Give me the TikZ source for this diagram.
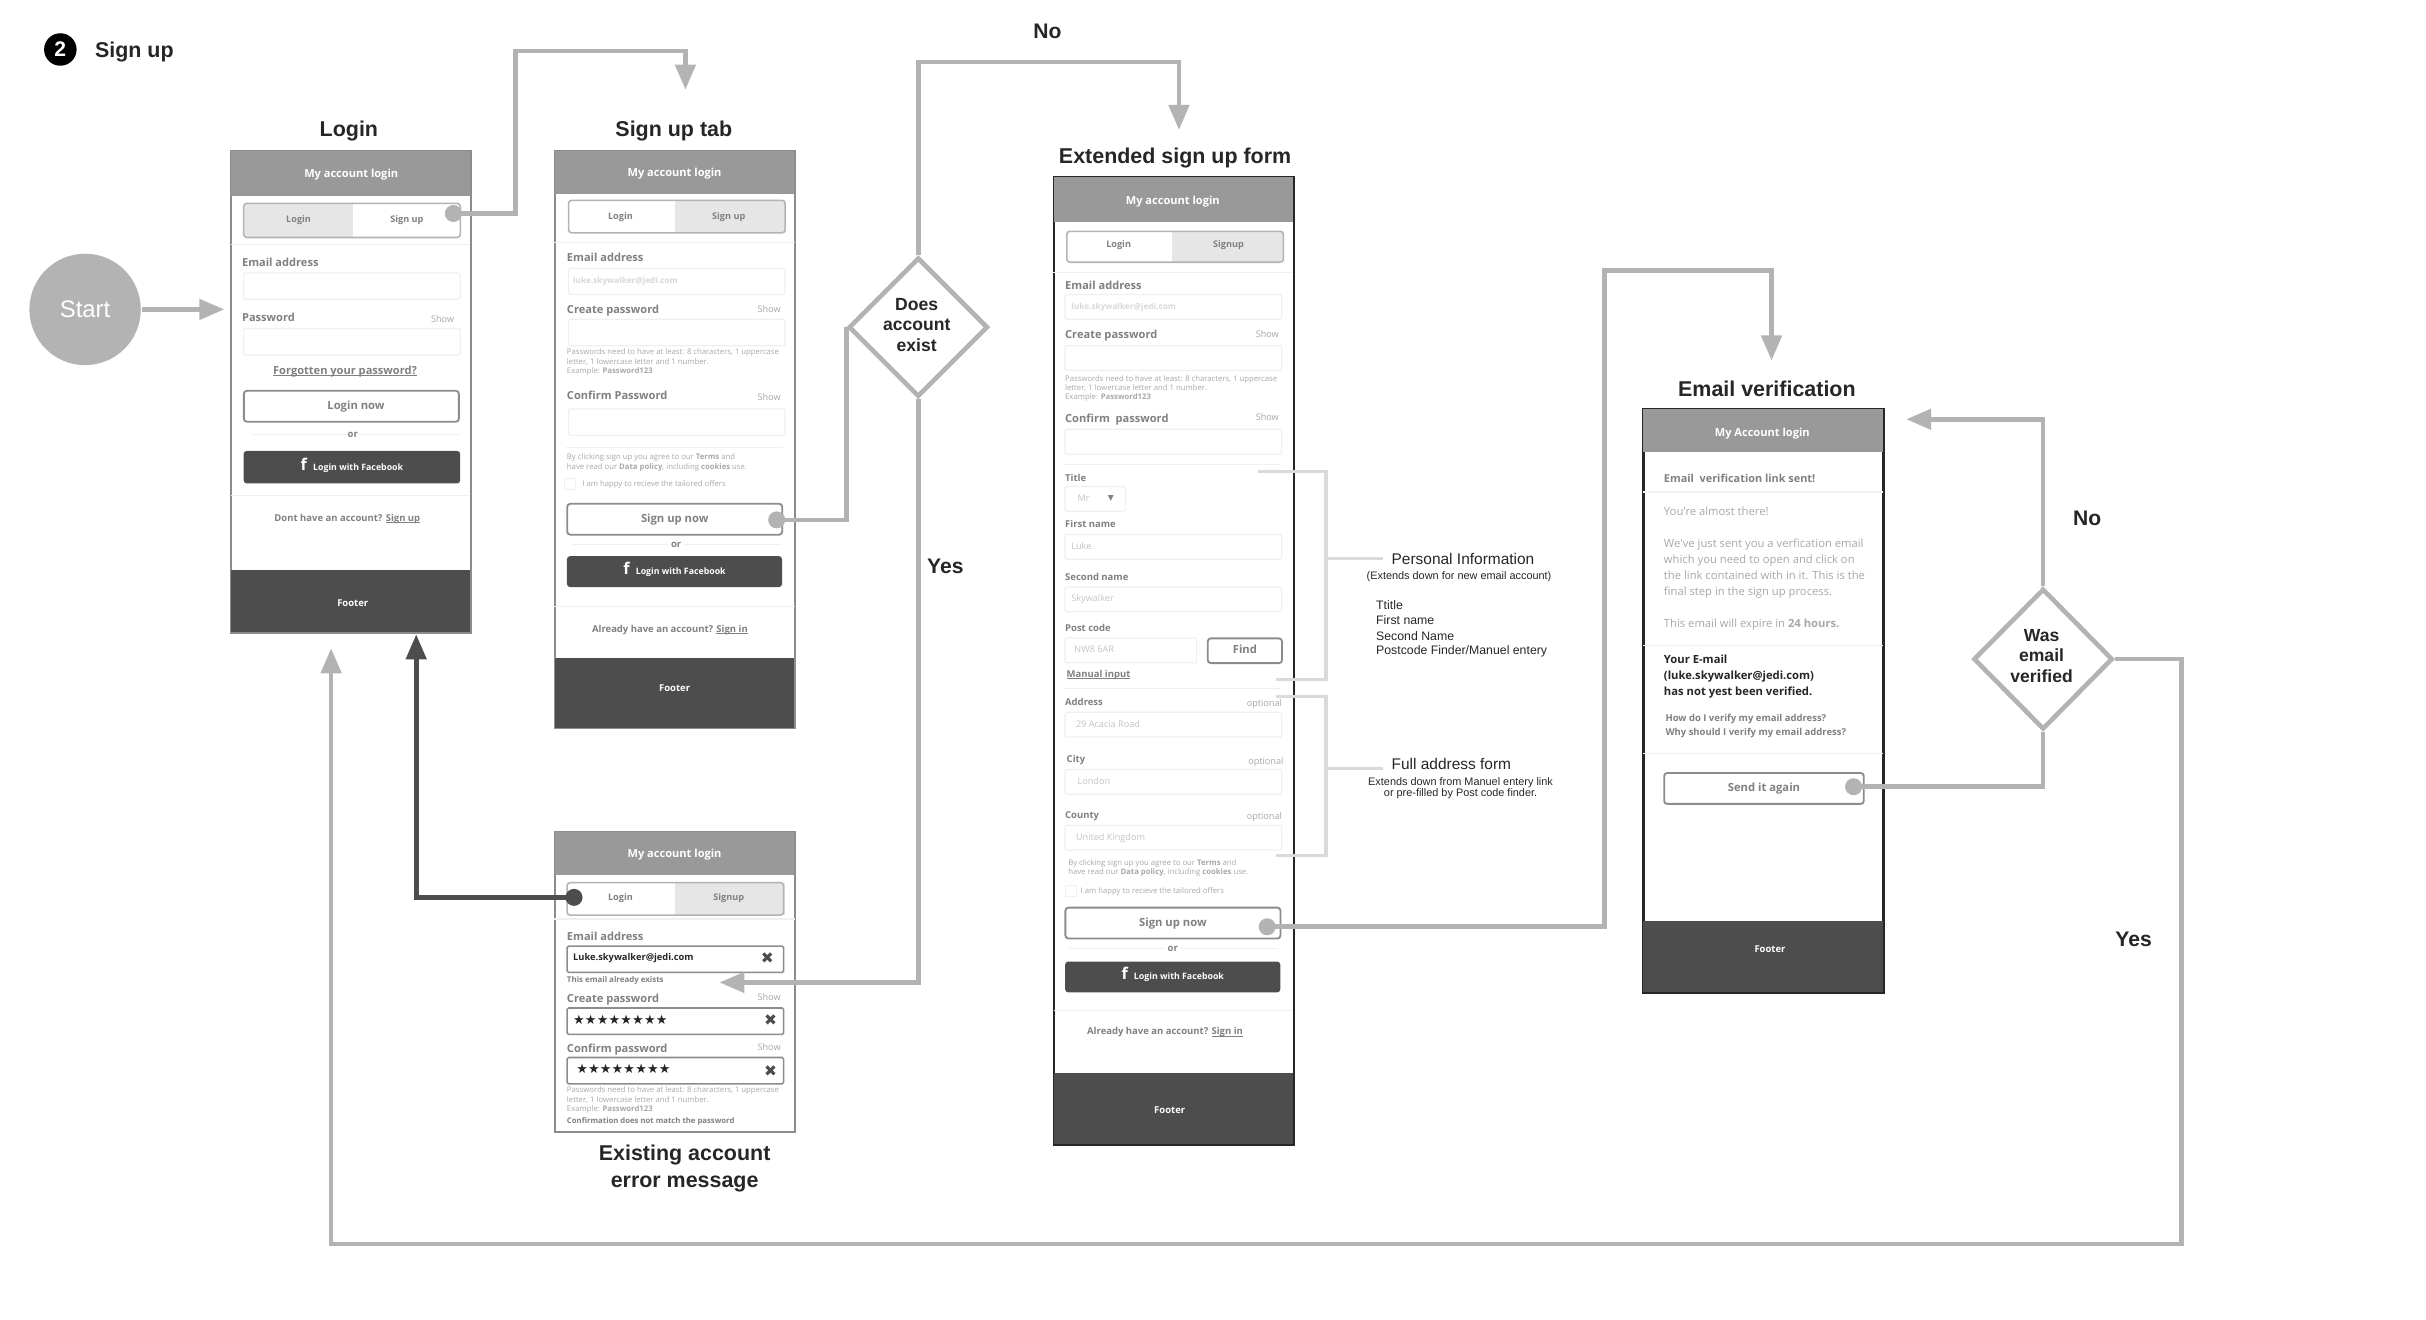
\documentclass[tikz,border=0pt]{standalone}
\usepackage{fontspec}
\usepackage{xcolor}
\usepackage{tikz}
\usetikzlibrary{positioning,arrows.meta,shapes.geometric}
\setmainfont{Liberation Sans}
\newfontfamily\uifont{Open Sans}
\newfontfamily\symfont{DejaVu Sans}
\definecolor{wireHead}{HTML}{999999}
\definecolor{wireDark}{HTML}{4D4D4D}
\definecolor{wireLine}{HTML}{B3B3B3}
\definecolor{wireSoft}{HTML}{E6E6E6}
\definecolor{wireEdge}{HTML}{8C8C8C}
\definecolor{wireFaint}{HTML}{F0F0F0}
\definecolor{wireLabel}{HTML}{808080}
\definecolor{wireHint}{HTML}{A8A8A8}
\definecolor{wirePale}{HTML}{C4C4C4}
\definecolor{wireNote}{HTML}{DADADA}
\definecolor{wireInk}{HTML}{262626}
\newlength{\pxu}
\setlength{\pxu}{0.0154719cm}
\newcommand{\fbmark}{\smash{\fontsize{4.6}{4.6}\selectfont f}\hspace{4\pxu}}
\newcommand{\pwstars}{\foreach \i in {1,...,8}{★\hspace{0.1\pxu}}}
\newcommand{\ulink}[1]{\setbox0=\hbox{#1}\rlap{\rule[-0.4pt]{\wd0}{0.2pt}}\box0}
\tikzset{
  screen/.style={draw=wireEdge,fill=white,line width=1.5\pxu,minimum width=155\pxu,anchor=north west,inner sep=0pt},
  darkscreen/.style={screen,draw=wireInk},
  headbar/.style={fill=wireHead,minimum width=155\pxu,anchor=north west,inner sep=0pt},
  footbar/.style={fill=wireDark,minimum width=155\pxu,anchor=north west,inner sep=0pt},
  evenline/.style={text height=2.4pt,text depth=0.7pt},
  lowline/.style={text height=3.3pt,text depth=0.7pt},
  bartext/.style={lowline,text=white,inner sep=0pt,font=\uifont\bfseries\fontsize{3.15}{3.6}\selectfont},
  foottext/.style={bartext,evenline,font=\uifont\bfseries\fontsize{2.7}{3}\selectfont},
  fieldlabel/.style={lowline,anchor=west,inner sep=0pt,text=wireLabel,font=\uifont\bfseries\fontsize{3.15}{3.6}\selectfont},
  smalllabel/.style={fieldlabel,evenline,font=\uifont\bfseries\fontsize{2.7}{3}\selectfont},
  showtext/.style={evenline,anchor=east,inner sep=0pt,text=wireHint,font=\uifont\fontsize{2.6}{3}\selectfont},
  ghosttext/.style={evenline,anchor=west,inner sep=0pt,text=wirePale,font=\uifont\fontsize{2.6}{3}\selectfont},
  ghostmail/.style={ghosttext,text=wireFaint!90!black,font=\uifont\bfseries\fontsize{2.35}{3}\selectfont},
  finetext/.style={anchor=west,inner sep=0pt,align=left,text=wireHint,font=\uifont\fontsize{2.2}{2.65}\selectfont},
  tabtext/.style={evenline,inner sep=0pt,text=wireLabel,font=\uifont\bfseries\fontsize{2.6}{3}\selectfont},
  centertext/.style={evenline,inner sep=0pt,text=wireLabel,font=\uifont\bfseries\fontsize{2.7}{3.2}\selectfont},
  tabfill/.style={fill=wireSoft,minimum height=21\pxu,anchor=north west,inner sep=0pt},
  tabframe/.style={draw=wireLine,rounded corners=2\pxu,line width=1\pxu,minimum width=140\pxu,minimum height=21\pxu,anchor=north west,inner sep=0pt},
  inputfield/.style={draw=wireFaint,rounded corners=1\pxu,line width=0.8\pxu,minimum width=140\pxu,minimum height=17\pxu,anchor=north west,inner sep=0pt},
  filledfield/.style={inputfield,draw=wireEdge,line width=1\pxu},
  outbutton/.style={evenline,draw=wireEdge,fill=white,rounded corners=2\pxu,line width=1.2\pxu,minimum width=139\pxu,minimum height=20\pxu,anchor=north west,inner sep=0pt,text=wireLabel,font=\uifont\bfseries\fontsize{3.2}{3.6}\selectfont},
  fbbutton/.style={evenline,fill=wireDark,rounded corners=2\pxu,minimum width=139\pxu,minimum height=20\pxu,anchor=north west,inner sep=0pt,text=white,font=\uifont\bfseries\fontsize{2.5}{3}\selectfont},
  sepline/.style={draw=wireFaint,line width=0.7\pxu},
  hotspot/.style={circle,fill=wireLine,minimum size=11\pxu,inner sep=0pt},
  darkspot/.style={hotspot,fill=wireDark},
  flow/.style={draw=wireLine,line width=3\pxu,-{Triangle[length=2.5mm,width=2mm]}},
  darkflow/.style={flow,draw=wireDark},
  noteline/.style={draw=wireNote,line width=2\pxu},
  decision/.style={diamond,aspect=1,draw=wireLine,fill=white,line width=3\pxu,minimum width=90\pxu,minimum height=90\pxu,inner sep=0pt},
  decisiontext/.style={inner sep=0pt,align=center,text=wireInk,font=\bfseries\fontsize{5}{5.75}\selectfont},
  heading/.style={inner sep=0pt,align=center,text=wireInk,font=\bfseries\fontsize{6.1}{7.7}\selectfont},
  branch/.style={inner sep=0pt,text=wireInk,font=\bfseries\fontsize{6}{7}\selectfont},
  notehead/.style={anchor=west,inner sep=0pt,text=wireInk,font=\fontsize{4.4}{5}\selectfont},
  notesmall/.style={inner sep=0pt,align=center,text=wireInk,font=\fontsize{3.1}{3.2}\selectfont},
  notelist/.style={anchor=west,inner sep=0pt,text=wireInk,font=\fontsize{3.5}{4}\selectfont},
  crossmark/.style={inner sep=0pt,text=wireDark,font=\symfont\fontsize{4.4}{5}\selectfont},
  starrow/.style={anchor=west,inner sep=0pt,text=wireInk,font=\symfont\fontsize{3.7}{4}\selectfont}
}
\begin{document}
\begin{tikzpicture}[x=0.0154719cm,y=-0.0154719cm]
  \useasboundingbox (0,0) rectangle (1568,853.16);

  \node[circle,fill=black,minimum size=21\pxu,inner sep=0pt,text=white,font=\bfseries\fontsize{6}{7}\selectfont] (stepBadge) at (39,32) {2};
  \node[anchor=west,inner sep=0pt,text=wireInk,font=\bfseries\fontsize{6.1}{7}\selectfont] (stepTitle) at (61,33.5) {Sign up};
  \node[circle,fill=wireLine,minimum size=72\pxu,inner sep=0pt,text=white,font=\fontsize{6.8}{8}\selectfont] (start) at (55,200) {Start};
  \coordinate (startTip) at (145,200);

  % login screen
  \node[heading] (logTitle) at (225.5,85) {Login};
  \node[screen,minimum height=311\pxu] (logScreen) at (148.6,97) {};
  \node[headbar,minimum height=29\pxu] (logHead) at (148.6,97) {};
  \node[bartext] (logHeadText) at (227,112) {My account login};
  \node[tabfill,minimum width=71\pxu,minimum height=22\pxu] (logTabFill) at (157,131) {};
  \node[tabframe,minimum height=22\pxu] (logTab) at (157,131) {};
  \node[tabtext] (logTabA) at (193,142) {Login};
  \node[tabtext] (logTabB) at (263,142) {Sign up};
  \draw[sepline] (149,158) -- (304,158);
  \foreach \nm/\px/\py/\tx in {logEmail/156/169/Email address,logPass/156/205/Password}
    \node[fieldlabel] (\nm) at (\px,\py) {\tx};
  \node[showtext] (logShow) at (294,206.5) {Show};
  \foreach \nm/\py in {logInA/176,logInB/212}
    \node[inputfield] (\nm) at (157,\py) {};
  \node[centertext,font=\uifont\bfseries\fontsize{3.15}{3.6}\selectfont] (logForgot) at (223,240) {\ulink{Forgotten your password?}};
  \node[outbutton] (logBtn) at (157,252) {\hspace*{6\pxu}Login now};
  \node[centertext] (logOr) at (228,281) {or};
  \draw[sepline] (163,281) -- (224,281) (232,281) -- (297,281);
  \node[fbbutton,minimum height=21\pxu,minimum width=140\pxu] (logFb) at (157,291) {\fbmark Login with Facebook};
  \draw[sepline] (149,320) -- (304,320);
  \node[centertext] (logAsk) at (224.5,335) {Dont have an account? \ulink{Sign up}};
  \node[footbar,minimum height=40\pxu] (logFoot) at (148.6,368) {};
  \node[foottext] (logFootText) at (228,390) {Footer};
  \node[hotspot] (logDot) at (293,138) {};

  % sign up tab screen
  \node[heading] (tabTitle) at (435.5,85) {Sign up tab};
  \node[screen,minimum height=373\pxu] (tabScreen) at (358,97) {};
  \node[headbar,minimum height=28\pxu] (tabHead) at (358,97) {};
  \node[bartext] (tabHeadText) at (436,111) {My account login};
  \node[tabfill,minimum width=71\pxu] (tabTabFill) at (436,129) {};
  \node[tabframe] (tabTab) at (367,129) {};
  \node[tabtext] (tabTabA) at (401,140) {Login};
  \node[tabtext] (tabTabB) at (471,140) {Sign up};
  \draw[sepline] (358,157) -- (514,157);
  \foreach \nm/\py/\tx in {tabEmail/166/Email address,tabPass/200/Create password,tabConf/255/Confirm Password}
    \node[fieldlabel] (\nm) at (366,\py) {\tx};
  \foreach \nm/\py in {tabShowA/200,tabShowB/257}
    \node[showtext] (\nm) at (505,\py) {Show};
  \foreach \nm/\py in {tabInA/173,tabInB/206,tabInC/264}
    \node[inputfield] (\nm) at (367,\py) {};
  \node[ghostmail] (tabMail) at (370,181) {luke.skywalker@jedi.com};
  \node[finetext] (tabRule) at (366,234) {Passwords need to have at least: 8 characters, 1 uppercase\\letter, 1 lowercase letter and 1 number.\\Example: \textbf{Password123}};
  \draw[sepline] (366,289) -- (506,289);
  \node[finetext] (tabTerms) at (366,299) {By clicking sign up you agree to our \textbf{Terms} and\\have read our \textbf{Data policy}, including \textbf{cookies} use.};
  \node[draw=wireFaint,minimum size=7\pxu,inner sep=0pt,line width=0.7\pxu] (tabCheck) at (368.5,313) {};
  \node[finetext] (tabOffer) at (376,313) {I am happy to recieve the tailored offers};
  \node[outbutton] (tabBtn) at (366,325) {Sign up now};
  \node[centertext] (tabOr) at (437,352) {or};
  \draw[sepline] (370,352) -- (432,352) (442,352) -- (505,352);
  \node[fbbutton] (tabFb) at (366,359) {\fbmark Login with Facebook};
  \draw[sepline] (358,392) -- (514,392);
  \node[centertext] (tabAsk) at (433,407) {Already have an account? \ulink{Sign in}};
  \node[footbar,minimum height=45\pxu] (tabFoot) at (358,425) {};
  \node[foottext] (tabFootText) at (436,445) {Footer};
  \node[hotspot] (tabDot) at (502,336) {};

  % existing account screen
  \node[screen,minimum height=194\pxu] (errScreen) at (358,537) {};
  \node[headbar,minimum height=28\pxu] (errHead) at (358,537) {};
  \node[bartext] (errHeadText) at (436,551) {My account login};
  \node[tabfill,minimum width=71\pxu] (errTabFill) at (436,570) {};
  \node[tabframe] (errTab) at (366,570) {};
  \node[tabtext] (errTabA) at (401,580) {Login};
  \node[tabtext] (errTabB) at (471,580) {Signup};
  \draw[sepline] (358,594) -- (514,594);
  \foreach \nm/\py/\tx in {errEmail/605/Email address,errPass/645/Create password,errConf/677/Confirm password}
    \node[fieldlabel] (\nm) at (366,\py) {\tx};
  \foreach \nm/\py in {errShowA/645,errShowB/677}
    \node[showtext] (\nm) at (505,\py) {Show};
  \foreach \nm/\py in {errInA/611,errInB/651,errInC/683}
    \node[filledfield] (\nm) at (366,\py) {};
  \node[fieldlabel,evenline,text=wireInk,font=\uifont\bfseries\fontsize{2.65}{3}\selectfont] (errMail) at (370,619) {Luke.skywalker@jedi.com};
  \foreach \nm/\px/\py in {errCrossA/496/619,errCrossB/498/659,errCrossC/498/692}
    \node[crossmark] (\nm) at (\px,\py) {✖};
  \node[finetext,text=wireLabel,font=\uifont\bfseries\fontsize{2.25}{2.6}\selectfont] (errExists) at (366,634) {This email already exists};
  \node[starrow] (errStarsA) at (370,659) {\pwstars};
  \node[starrow] (errStarsB) at (372,691) {\pwstars};
  \node[finetext] (errRule) at (366,711) {Passwords need to have at least: 8 characters, 1 uppercase\\letter, 1 lowercase letter and 1 number.\\Example: \textbf{Password123}};
  \node[finetext,text=wireLabel,font=\uifont\bfseries\fontsize{2.2}{2.6}\selectfont] (errMatch) at (366,725) {Confirmation does not match the password};
  \node[darkspot] (errDot) at (371,580) {};
  \node[heading] (errTitle) at (442.5,755) {Existing account\\error message};

  % extended form screen
  \node[heading] (extTitle) at (759.5,102) {Extended sign up form};
  \node[darkscreen,minimum height=625\pxu] (extScreen) at (680.5,114) {};
  \node[headbar,minimum height=29\pxu] (extHead) at (680.5,114) {};
  \node[bartext] (extHeadText) at (758,129) {My account login};
  \node[tabfill,minimum width=72\pxu,minimum height=20\pxu] (extTabFill) at (757,149) {};
  \node[tabframe,minimum height=20\pxu] (extTab) at (689,149) {};
  \node[tabtext] (extTabA) at (723,158) {Login};
  \node[tabtext] (extTabB) at (794,158) {Signup};
  \draw[sepline] (680,176) -- (836,176);
  \foreach \nm/\py/\tx in {extEmail/184/Email address,extPass/216/Create password,extConf/270/Confirm~~password}
    \node[fieldlabel] (\nm) at (688,\py) {\tx};
  \foreach \nm/\py in {extShowA/216,extShowB/270}
    \node[showtext] (\nm) at (827,\py) {Show};
  \foreach \nm/\py in {extInA/190,extInB/223,extInC/277,extInD/345,extInE/379,extInF/460,extInG/497,extInH/533}
    \node[inputfield,minimum height=16\pxu] (\nm) at (688,\py) {};
  \node[ghostmail] (extMail) at (692,198) {luke.skywalker@jedi.com};
  \node[finetext] (extRule) at (688,251) {Passwords need to have at least: 8 characters, 1 uppercase\\letter, 1 lowercase letter and 1 number.\\Example: \textbf{Password123}};
  \draw[sepline] (688,300) -- (828,300);
  \foreach \nm/\px/\py/\tx in {extLblA/688/309/Title,extLblB/688/339/First name,extLblC/688/373/Second name,extLblD/688/406/Post code,extLblF/688/454/Address,extLblG/689/491/City,extLblH/688/527/County}
    \node[smalllabel] (\nm) at (\px,\py) {\tx};
  \node[inputfield,minimum width=39\pxu,minimum height=16\pxu] (extSelect) at (688,314) {};
  \node[inputfield,minimum width=85\pxu,minimum height=16\pxu] (extCode) at (688,412) {};
  \foreach \nm/\px/\py/\tx in {extMr/696/322/Mr,extLuke/692/353/Luke,extSky/692/387/Skywalker,extNw/694/420/NW8 6AR,extRoad/695/468/29 Acacia Road,extCity/696/505/London,extUk/695/541/United Kingdom}
    \node[ghosttext] (\nm) at (\px,\py) {\tx};
  \node[crossmark,font=\symfont\fontsize{2.2}{3}\selectfont,text=wireLabel] (extArrowDown) at (718,322) {▼};
  \node[outbutton,minimum width=48\pxu,minimum height=16\pxu] (extFind) at (780,412) {Find};
  \node[smalllabel] (extManual) at (689,436) {\ulink{Manual input}};
  \draw[sepline] (688,445) -- (828,445);
  \foreach \nm/\px/\py in {extOptA/829/455,extOptB/830/492,extOptC/829/528}
    \node[showtext] (\nm) at (\px,\py) {optional};
  \node[finetext] (extTerms) at (690,561) {By clicking sign up you agree to our \textbf{Terms} and\\have read our \textbf{Data policy}, including \textbf{cookies} use.};
  \node[draw=wireFaint,minimum size=7\pxu,inner sep=0pt,line width=0.7\pxu] (extCheck) at (692,576) {};
  \node[finetext] (extOffer) at (698,576) {I am happy to recieve the tailored offers};
  \node[outbutton] (extBtn) at (688,586) {Sign up now\hspace{3\pxu}};
  \node[centertext] (extOr) at (758,613) {or};
  \draw[sepline] (691,613) -- (752,613) (763,613) -- (826,613);
  \node[fbbutton] (extFb) at (688,621) {\fbmark Login with Facebook};
  \draw[sepline] (681,653) -- (836,653);
  \node[centertext] (extAsk) at (753,667) {Already have an account? \ulink{Sign in}};
  \node[footbar,minimum height=46\pxu] (extFoot) at (680.5,693) {};
  \node[foottext] (extFootText) at (756,718) {Footer};
  \node[hotspot] (extDot) at (819,599) {};

  % verification screen
  \node[heading] (verTitle) at (1142,251.5) {Email verification};
  \node[darkscreen,minimum height=377\pxu] (verScreen) at (1061.5,264) {};
  \node[headbar,minimum height=28\pxu] (verHead) at (1061.5,264) {};
  \node[bartext] (verHeadText) at (1139,279) {My Account login};
  \node[fieldlabel,evenline,font=\uifont\bfseries\fontsize{3.1}{3.6}\selectfont] (verSent) at (1075,310) {Email~~verification link sent!};
  \draw[sepline] (1062,318) -- (1217,318);
  \node[finetext,font=\uifont\fontsize{3.2}{4.55}\selectfont] (verBody) at (1075,367.5) {You're almost there!\\[4.55pt]We've just sent you a verfication email\\which you need to open and click on\\the link contained with in it. This is the\\final step in the sign up process.\\[4.55pt]This email will expire in \textbf{24 hours.}};
  \draw[sepline] (1062,417) -- (1217,417);
  \node[finetext,text=wireInk,font=\uifont\bfseries\fontsize{3.2}{4.55}\selectfont] (verYour) at (1075,437) {Your E-mail\\(luke.skywalker@jedi.com)\\has not yest been verified.};
  \node[finetext,text=wireLabel,font=\uifont\bfseries\fontsize{2.7}{4}\selectfont] (verHelp) at (1076,469.5) {How do I verify my email address?\\Why should I verify my email address?};
  \draw[sepline] (1062,487) -- (1217,487);
  \node[outbutton,minimum width=129\pxu] (verBtn) at (1075,499) {Send it again};
  \node[footbar,minimum height=46\pxu] (verFoot) at (1061.5,595) {};
  \node[foottext] (verFootText) at (1144,614) {Footer};
  \node[hotspot] (verDot) at (1198,508.5) {};

  \node[decision] (existCheck) at (593.5,211.5) {};
  \node[decisiontext] (existText) at (592.5,210) {Does\\account\\exist};
  \node[decision,minimum height=91\pxu] (verifyCheck) at (1320.5,426) {};
  \node[decisiontext] (verifyText) at (1319.5,424) {Was\\email\\verified};
  \node[branch] (existNo) at (677,20) {No};
  \node[branch] (existYes) at (611,366) {Yes};
  \node[branch] (verifyNo) at (1349,335) {No};
  \node[branch] (verifyYes) at (1379,607) {Yes};

  \node[notehead] (persLabel) at (899,361) {Personal Information};
  \node[notesmall] (persSub) at (943,373) {(Extends down for new email account)};
  \foreach \nm/\py/\tx in {persA/391/Ttitle,persB/401/First name,persC/411/Second Name,persD/421/{Postcode Finder/Manuel entery}}
    \node[notelist] (\nm) at (889,\py) {\tx};
  \node[notehead] (addrLabel) at (899,494) {Full address form};
  \node[notesmall] (addrSub) at (944,509.5) {Extends down from Manuel entery link\\or pre-filled by Post code finder.};

  \coordinate (persTop) at (813,305);
  \coordinate (persBot) at (825,439);
  \coordinate (persRail) at (857,361);
  \coordinate (addrTop) at (825,450);
  \coordinate (addrBot) at (825,553);
  \coordinate (addrRail) at (857,497);
  \draw[noteline] (persTop) -| (persRail) |- (persBot);
  \draw[noteline] (persRail) -- ([xshift=-5\pxu]persLabel.west);
  \draw[noteline] (addrTop) -| (addrRail) |- (addrBot);
  \draw[noteline] (addrRail) -- ([xshift=-5\pxu,yshift=-3\pxu]addrLabel.west);

  \coordinate (signRise) at (333,33);
  \coordinate (signTip) at (443,58);
  \coordinate (noRise) at (762,40);
  \coordinate (noTip) at (762,84);
  \coordinate (errTip) at (465,635);
  \coordinate (backTip) at (269,410);
  \coordinate (verRise) at (1037,175);
  \coordinate (verTip) at (1145,233);
  \coordinate (againTip) at (1232,271);
  \coordinate (doneTurn) at (1410,804);
  \coordinate (doneTip) at (214,419);

  \draw[flow] (start) -- (startTip);
  \draw[flow] (logDot.center) -| (signRise) -| (signTip);
  \draw[flow,-] (tabDot.center) -| (existCheck.west);
  \draw[flow] (existCheck.north) |- (noRise) -- (noTip);
  \draw[flow] (existCheck.south) |- (errTip);
  \draw[darkflow] (errDot.center) -| (backTip);
  \draw[flow] (extDot.center) -| (verRise) -| (verTip);
  \draw[flow,-] (verDot.center) -| (verifyCheck.south);
  \draw[flow] (verifyCheck.north) |- (againTip);
  \draw[flow] (verifyCheck.east) -| (doneTurn) -| (doneTip);
\end{tikzpicture}
\end{document}
